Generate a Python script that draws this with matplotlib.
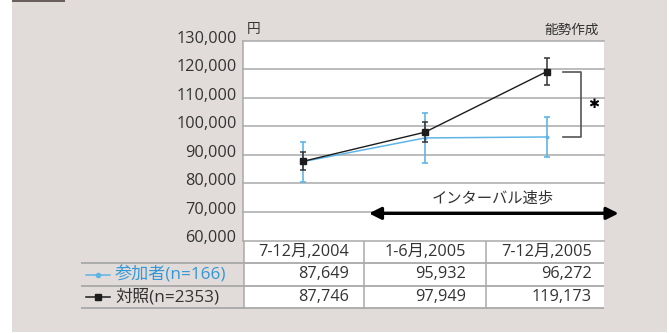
import matplotlib
matplotlib.use("Agg")
import matplotlib.pyplot as plt
from matplotlib.patches import Rectangle
from matplotlib.lines import Line2D
from matplotlib.ticker import FuncFormatter
import matplotlib.transforms as mtransforms

plt.rcParams['font.family'] = ['Open Sans', 'Noto Sans CJK JP', 'DejaVu Sans']

# ---- data ----
periods = ["7-12月,2004", "1-6月,2005", "7-12月,2005"]
participants = [87649, 95932, 96272]
participants_err = [7000, 8900, 6900]
control = [87746, 97949, 119173]
control_err = [3200, 3500, 4800]
participants_label = "参加者(n=166)"
control_label = "対照(n=2353)"
y_ticks = [60000, 70000, 80000, 90000, 100000, 110000, 120000, 130000]
unit_label = "円"
credit_label = "能勢作成"
period_label = "インターバル速歩"
period_start, period_end = 0.54, 2.59

# ---- colours ----
BG = "#e1dcd9"
GRID = "#a9a9a9"
BLUE_LINE = "#5fb4e6"
BLUE_TEXT = "#3497d8"
DARK = "#1c1c1c"
TEXT = "#333333"

W, H = 669, 333
fig = plt.figure(figsize=(W / 100, H / 100), dpi=100)
fig.patch.set_facecolor("white")

# full-figure pixel canvas for the panel and the table
canvas = fig.add_axes([0, 0, 1, 1], zorder=0)
canvas.set_xlim(0, W)
canvas.set_ylim(H, 0)
canvas.axis("off")
canvas.add_patch(Rectangle((12, 0), 655, 332, facecolor=BG, edgecolor="none"))
canvas.add_patch(Rectangle((12, 0), 53, 2.2, facecolor="#6b5f5d", edgecolor="none"))

L, R, T, B = 243.5, 604, 40.7, 240.5
ax = fig.add_axes([L / W, 1 - B / H, (R - L) / W, (B - T) / H], zorder=1)
ax.set_facecolor("white")
ax.set_xlim(-0.49, 2.47)
ax.set_ylim(y_ticks[0], y_ticks[-1])
x = list(range(len(periods)))

ax.set_yticks(y_ticks)
ax.yaxis.set_major_formatter(FuncFormatter(lambda v, p: f"{int(v):,}"))
ax.tick_params(axis="y", length=0, pad=5, labelsize=11.7, labelcolor=TEXT)
for lbl in ax.get_yticklabels():
    lbl.set_transform(lbl.get_transform() + mtransforms.ScaledTranslation(0, 3 / 72, fig.dpi_scale_trans))
ax.set_xticks([])
ax.yaxis.grid(True, color=GRID, lw=1.1)
for gl in ax.get_ygridlines():
    gl.set_clip_on(False)
for s in ["top", "right", "bottom"]:
    ax.spines[s].set_visible(False)
ax.spines["left"].set_color(GRID)
ax.spines["left"].set_linewidth(1.1)

ax.errorbar(x, participants, yerr=participants_err, color=BLUE_LINE, lw=1.1,
            marker="o", ms=1.8, capsize=2.3, elinewidth=1.2, capthick=1.2, zorder=3)
ax.errorbar(x, control, yerr=control_err, color=DARK, ecolor="#333333", lw=1.0,
            marker="s", ms=3.8, capsize=2.3, elinewidth=1.1, capthick=1.1, zorder=4)

# significance bracket between the two series at the last period
bx0, bx1 = x[-1] + 0.135, x[-1] + 0.28
ax.plot([bx0, bx1, bx1, bx0], [control[-1], control[-1], participants[-1], participants[-1]],
        color="#555555", lw=1.2, clip_on=False, zorder=3)
ax.text(x[-1] + 0.385, (control[-1] + participants[-1]) / 2, "✱", family="DejaVu Sans",
        fontsize=9.5, ha="center", va="center", color="black", fontweight="bold")

# intervention period arrow
ax.annotate("", xy=(period_end, 69500), xytext=(period_start, 69500),
            arrowprops=dict(arrowstyle="<|-|>", lw=2.3, color="black", mutation_scale=18,
                            shrinkA=0, shrinkB=0),
            annotation_clip=False, zorder=5)
ax.text(1.556, 74500, period_label, fontsize=11, ha="center", va="center", color=TEXT)

ax.text(0.008, 1 + (T - 29.5) / (B - T), unit_label, transform=ax.transAxes,
        fontsize=9.8, ha="left", va="center", color=TEXT)
ax.text(0.986, 1 + (T - 30.5) / (B - T), credit_label, transform=ax.transAxes,
        fontsize=9.8, ha="right", va="center", color=TEXT)

# ---- table under the chart ----
def px(xv):
    return ax.transData.transform((xv, 0))[0]

row_tops = [B, 263.3, 285.7, 308.3]
canvas.add_patch(Rectangle((L, B), R - L, row_tops[-1] - B, facecolor="white",
                           edgecolor="none"))
for yy in row_tops[1:]:
    canvas.plot([81, R], [yy, yy], color=GRID, lw=1.3, solid_capstyle="butt")
bounds = [L] + [px(i + 0.5) for i in x[:-1]] + [R]
for bxv in bounds[:-1]:
    canvas.plot([bxv, bxv], [B, row_tops[-1]], color=GRID, lw=1.1)

renderer = fig.canvas.get_renderer()
row_mid = [(row_tops[i] + row_tops[i + 1]) / 2 for i in range(3)]
for i, per in enumerate(periods):
    cx = px(i)
    t = canvas.text(cx, row_mid[0], per, fontsize=11.7, ha="center", va="center", color=TEXT)
    right = t.get_window_extent(renderer).x1
    canvas.text(right, row_mid[1], f"{participants[i]:,}", fontsize=11.7, ha="right",
                va="center", color=TEXT)
    canvas.text(right, row_mid[2], f"{control[i]:,}", fontsize=11.7, ha="right",
                va="center", color=TEXT)

# series keys in the first column of the table
canvas.add_line(Line2D([86, 98, 110], [row_mid[1]] * 3, color=BLUE_LINE,
                       lw=1.1, marker="o", markevery=[1], ms=3))
canvas.add_line(Line2D([86, 98, 110], [row_mid[2]] * 3, color=DARK,
                       lw=1.1, marker="s", markevery=[1], ms=4))
canvas.text(115, row_mid[1], participants_label, fontsize=12.3, ha="left", va="center",
            color=BLUE_TEXT)
canvas.text(115, row_mid[2], control_label, fontsize=12.3, ha="left", va="center", color=TEXT)

fig.savefig("out.png", dpi=100, facecolor=fig.get_facecolor())
